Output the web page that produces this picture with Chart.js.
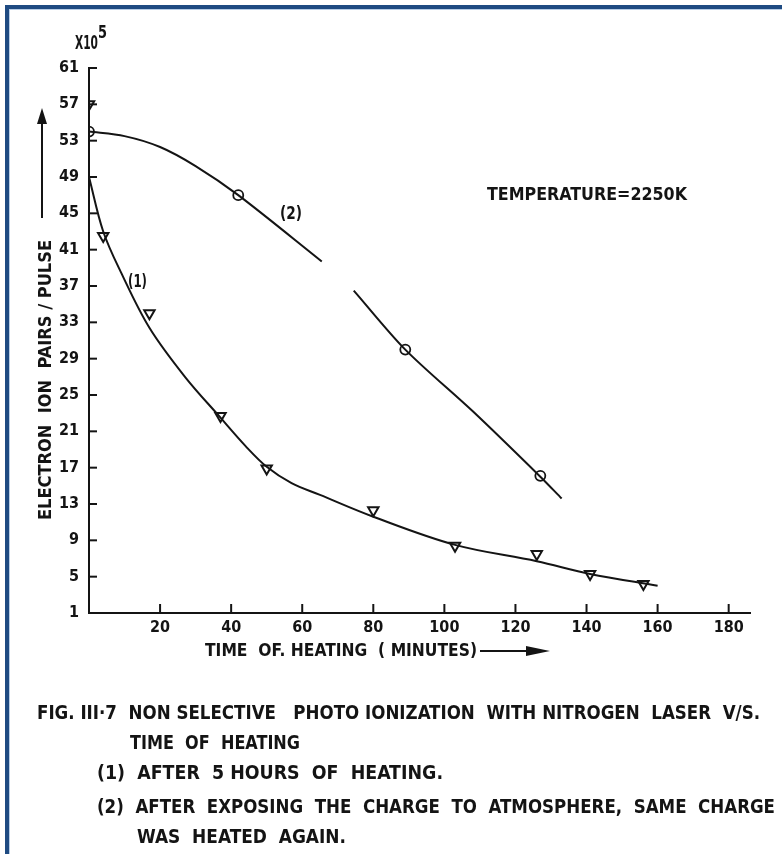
<!DOCTYPE html>
<html>
<head>
<meta charset="utf-8">
<script src="https://cdn.jsdelivr.net/npm/chart.js@4.4.1/dist/chart.umd.min.js"></script>
<style>
    body { margin: 0; background: #ffffff; }
    #frame { position: absolute; left: 5px; top: 5px; width: 777px; height: 849px; border-left: 4px solid #1f4b82; border-top: 4px solid #1f4b82; box-shadow: inset 1px 1px 0 #b8cde6; }
    #ChartCanvas { position: absolute; left: 0; top: 0; }
</style>
</head>
<body>
<div id="frame"></div>
<canvas id="ChartCanvas" width="782" height="854"></canvas>
<script>
// values (time in minutes, ion pairs x10^5)
var curve1PointsX = [0, 4, 17, 37, 50, 80, 103, 126, 141, 156];
var curve1PointsY = [57, 42.5, 34, 22.7, 16.9, 12.3, 8.4, 7.5, 5.3, 4.2];
var curve2PointsX = [0, 42, 89, 127];
var curve2PointsY = [54, 47, 30, 16.1];

// hand drawn fit lines (null = gap in curve 2)
var curve1FitX = [0, 4, 9, 17, 27, 37, 44, 50, 57, 65, 80, 103, 126, 141, 160];
var curve1FitY = [49, 43, 38.5, 32.4, 27, 22.5, 19.4, 17.1, 15.3, 14, 11.6, 8.5, 6.7, 5.3, 4];
var curve2FitX = [0, 10, 20, 30, 42, 65.5, 70, 74.5, 89, 108, 127, 133];
var curve2FitY = [54, 53.5, 52.3, 50.2, 47, 39.7, null, 36.5, 30, 23.2, 16, 13.6];

var xTickLabels = [20, 40, 60, 80, 100, 120, 140, 160, 180];

var captionLines = [
    "FIG. III\u00b77  NON SELECTIVE   PHOTO IONIZATION  WITH NITROGEN  LASER  V/S.",
    "TIME  OF  HEATING",
    "(1)  AFTER  5 HOURS  OF  HEATING.",
    "(2)  AFTER  EXPOSING  THE  CHARGE  TO  ATMOSPHERE,  SAME  CHARGE",
    "WAS  HEATED  AGAIN."
];

var ink = '#141414';
var letterFont = '"DejaVu Sans Condensed", "Liberation Sans Narrow", "Liberation Sans", sans-serif';

function toPoints(xs, ys)
{
    return xs.map(function(x, i) { return { x: x, y: ys[i] }; });
}

function fitText(ctx, text, x, y, width, size, align) //squeeze text to the width it has in the scan
{
    ctx.save();
    ctx.font = 'bold ' + size + 'px ' + letterFont;
    var w = ctx.measureText(text).width;
    var sx = width / w;
    ctx.translate(x, y);
    ctx.scale(sx, 1);
    ctx.textBaseline = 'middle';
    ctx.textAlign = 'left';
    var start = 0;
    if (align === 'center') start = -w / 2;
    ctx.fillText(text, start, 0);
    ctx.restore();
}

function arrowHead(ctx, tipX, tipY, dirX, dirY, len, half)
{
    ctx.beginPath();
    ctx.moveTo(tipX, tipY);
    ctx.lineTo(tipX - dirX * len - dirY * half, tipY - dirY * len + dirX * half);
    ctx.lineTo(tipX - dirX * len + dirY * half, tipY - dirY * len - dirX * half);
    ctx.closePath();
    ctx.fill();
}

var paperPlugin =
{
    id: 'paper',
    afterDraw: function(chart)
    {
        var ctx = chart.ctx;
        var xs = chart.scales.x;
        var ys = chart.scales.y;
        ctx.save();
        ctx.strokeStyle = ink;
        ctx.fillStyle = ink;
        ctx.lineWidth = 2;

        //inward tick marks like the original drawing
        ys.ticks.forEach(function(t)
        {
            var py = ys.getPixelForValue(t.value);
            ctx.beginPath();
            ctx.moveTo(xs.left, py);
            ctx.lineTo(xs.left + 8, py);
            ctx.stroke();
        });
        xs.ticks.forEach(function(t)
        {
            var px = xs.getPixelForValue(t.value);
            ctx.beginPath();
            ctx.moveTo(px, ys.bottom);
            ctx.lineTo(px, ys.bottom - 9);
            ctx.stroke();
        });

        //x10^5 unit
        fitText(ctx, 'X10', 75, 44, 23, 19, 'left');
        fitText(ctx, '5', 98, 33, 9, 18, 'left');

        //y title with arrow
        ctx.save();
        ctx.translate(46, 380);
        ctx.rotate(-Math.PI / 2);
        fitText(ctx, 'ELECTRON  ION  PAIRS / PULSE', 0, 0, 280, 18, 'center');
        ctx.restore();
        ctx.beginPath();
        ctx.moveTo(42, 218);
        ctx.lineTo(42, 122);
        ctx.stroke();
        arrowHead(ctx, 42, 108, 0, -1, 16, 5);

        //x title with arrow
        fitText(ctx, 'TIME  OF. HEATING  ( MINUTES)', 205, 651, 272, 18, 'left');
        ctx.beginPath();
        ctx.moveTo(480, 651);
        ctx.lineTo(530, 651);
        ctx.stroke();
        arrowHead(ctx, 550, 651, 1, 0, 24, 5);

        //annotations
        fitText(ctx, 'TEMPERATURE=2250K', 487, 196, 200, 17, 'left');
        fitText(ctx, '(1)', 128, 283, 19, 17, 'left');
        fitText(ctx, '(2)', 280, 215, 22, 17, 'left');

        //caption
        fitText(ctx, captionLines[0], 37, 714, 723, 20, 'left');
        fitText(ctx, captionLines[1], 130, 744, 170, 20, 'left');
        fitText(ctx, captionLines[2], 97, 774, 346, 20, 'left');
        fitText(ctx, captionLines[3], 97, 808, 678, 20, 'left');
        fitText(ctx, captionLines[4], 137, 838, 209, 20, 'left');
        ctx.restore();
    }
};

var chartCtx = document.getElementById("ChartCanvas").getContext("2d");

var config =
{
    type: 'scatter',
    data:
    {
        datasets:
        [
            {
                label: 'fit (1)',
                data: toPoints(curve1FitX, curve1FitY),
                showLine: true,
                borderColor: ink,
                borderWidth: 2,
                pointRadius: 0,
                tension: 0.35,
            },
            {
                label: 'fit (2)',
                data: toPoints(curve2FitX, curve2FitY),
                showLine: true,
                spanGaps: false,
                borderColor: ink,
                borderWidth: 2,
                pointRadius: 0,
                tension: 0.3,
            },
            {
                label: '(1) after 5 hours of heating',
                data: toPoints(curve1PointsX, curve1PointsY),
                pointStyle: 'triangle',
                rotation: 180,
                pointRadius: 6,
                borderColor: ink,
                borderWidth: 2,
                backgroundColor: 'rgba(255,255,255,0)',
            },
            {
                label: '(2) heated again',
                data: toPoints(curve2PointsX, curve2PointsY),
                pointStyle: 'circle',
                pointRadius: 5,
                borderColor: ink,
                borderWidth: 1.8,
                backgroundColor: 'rgba(255,255,255,0)',
            }
        ]
    },
    options:
    {
        responsive: false,
        animation: false,
        layout: { padding: { top: 68, right: 32, left: 0, bottom: 0 } },
        plugins: { legend: { display: false }, tooltip: { enabled: false } },
        scales:
        {
            x:
            {
                type: 'linear',
                min: 0,
                max: 186,
                grid: { display: false, drawTicks: false },
                border: { display: true, color: ink, width: 2 },
                afterBuildTicks: function(scale)
                {
                    scale.ticks = xTickLabels.map(function(v) { return { value: v }; });
                },
                afterFit: function(scale) { scale.height = 241; },
                ticks:
                {
                    padding: 5,
                    color: ink,
                    font: { family: letterFont, size: 16, weight: 'bold' },
                    maxRotation: 0,
                }
            },
            y:
            {
                type: 'linear',
                min: 1,
                max: 61,
                grid: { display: false, drawTicks: false },
                border: { display: true, color: ink, width: 2 },
                afterFit: function(scale) { scale.width = 89; },
                ticks:
                {
                    stepSize: 4,
                    padding: 10,
                    color: ink,
                    font: { family: letterFont, size: 16, weight: 'bold' },
                }
            }
        }
    },
    plugins: [paperPlugin]
};

var createdChart = new Chart(chartCtx, config);
</script>
</body>
</html>
